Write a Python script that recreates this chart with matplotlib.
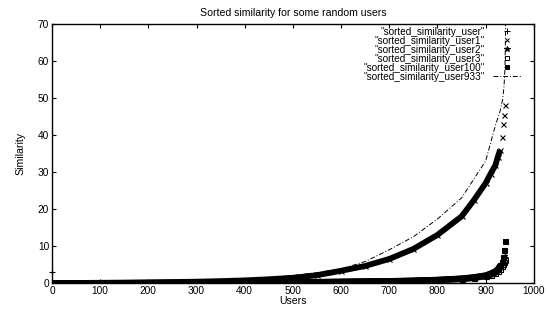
import numpy as np
import matplotlib
matplotlib.use("Agg")
import matplotlib.pyplot as plt
from matplotlib.lines import Line2D

plt.rcParams['font.family'] = ['Liberation Sans', 'DejaVu Sans']

users = [0, 50, 100, 150, 200, 250, 300, 350, 400, 450, 500, 550, 600, 650,
         700, 750, 800, 850, 875, 900, 910, 920, 925, 930, 934, 936, 938, 940]

# sorted similarity values
sim_user = [0.0, 0.0, 0.0, 0.0, 0.03, 0.05, 0.08, 0.1, 0.13, 0.17, 0.22, 0.27, 0.33, 0.4,
            0.48, 0.6, 0.8, 1.1, 1.4, 1.9, 2.3, 2.9, 3.4, 4.2, 5.0, 5.6, 6.3, 7.0]
sim_user1 = [0.0, 0.0, 0.05, 0.1, 0.15, 0.25, 0.35, 0.5, 0.7, 1.0, 1.4, 2.1, 3.3, 4.6,
             6.5, 9.2, 13.0, 18.0, 22.3, 27.0, 29.5, 31.8, 34.0, 36.0, 39.5, 43.0, 45.5, 48.0]
sim_user2 = [0.0, 0.0, 0.0, 0.02, 0.04, 0.06, 0.09, 0.12, 0.15, 0.19, 0.24, 0.3, 0.36, 0.44,
             0.52, 0.65, 0.85, 1.2, 1.5, 2.0, 2.4, 3.0, 3.6, 4.5, 5.3, 6.0, 6.6, 7.4]
sim_user3 = [0.0, 0.0, 0.0, 0.01, 0.03, 0.05, 0.07, 0.1, 0.13, 0.16, 0.2, 0.25, 0.3, 0.37,
             0.45, 0.55, 0.75, 1.0, 1.3, 1.8, 2.1, 2.7, 3.2, 3.9, 4.6, 5.2, 5.8, 6.2]
sim_user100 = [0.0, 0.0, 0.0, 0.02, 0.05, 0.07, 0.1, 0.13, 0.16, 0.2, 0.25, 0.31, 0.37, 0.45,
               0.55, 0.68, 0.9, 1.25, 1.6, 2.1, 2.6, 3.2, 3.8, 4.8, 5.8, 7.0, 9.0, 11.3]

users933 = [0, 100, 200, 300, 400, 500, 550, 600, 650, 700, 750, 800, 850, 875,
            900, 920, 930, 935, 938, 940, 941, 942]
sim_user933 = [0.0, 0.1, 0.25, 0.5, 1.0, 2.0, 2.8, 3.8, 5.8, 9.0, 12.5, 17.3, 23.0, 28.0,
               33.0, 42.5, 46.5, 49.5, 53.0, 58.0, 66.0, 75.0]

# lone point sitting on the y axis
extra_x = [0]
extra_y = [3.0]

labels = ['"sorted_similarity_user"', '"sorted_similarity_user1"',
          '"sorted_similarity_user2"', '"sorted_similarity_user3"',
          '"sorted_similarity_user100"', '"sorted_similarity_user933"']

fig = plt.figure(figsize=(5.47, 3.12), dpi=100)
ax = fig.add_axes([0.095, 0.093, 0.881, 0.830])

series = [(sim_user, '+', 'full'), (sim_user1, 'x', 'full'), (sim_user2, '*', 'full'),
          (sim_user3, 's', 'none'), (sim_user100, 's', 'full')]
for vals, mk, fs in series:
    ax.plot(users[:-4], vals[:-4], color='black', lw=4.2, solid_capstyle='butt', zorder=2)
    ax.plot(users, vals, ls='none', marker=mk, fillstyle=fs, color='black',
            ms=3.6, mew=0.8, zorder=3)
ax.plot(extra_x, extra_y, ls='none', marker='+', color='black', ms=5, mew=0.8,
        clip_on=False, zorder=4)
ax.plot(users933, sim_user933, color='black', lw=0.7, ls=(0, (5, 2, 1, 2)), zorder=4)

ax.set_xlim(0, 1000)
ax.set_ylim(0, 70)
ax.set_xticks(np.arange(0, 1001, 100))
ax.set_yticks(np.arange(0, 71, 10))
ax.tick_params(direction='in', top=True, right=True, length=3, width=0.8,
               labelsize=7.3, pad=2)
for s in ax.spines.values():
    s.set_linewidth(1.0)

ax.set_title("Sorted similarity for some random users", fontsize=7.6, pad=6)
ax.set_xlabel("Users", fontsize=7.6, labelpad=0)
ax.set_ylabel("Similarity", fontsize=7.6, labelpad=9)

handles = [Line2D([], [], ls='none', marker='+', color='black', ms=4, mew=0.7),
           Line2D([], [], ls='none', marker='x', color='black', ms=3.2, mew=0.7),
           Line2D([], [], ls='none', marker='*', color='black', ms=4, mew=0.7),
           Line2D([], [], ls='none', marker='s', fillstyle='none', color='black', ms=3.2, mew=0.7),
           Line2D([], [], ls='none', marker='s', color='black', ms=3.2, mew=0.7),
           Line2D([], [], color='black', lw=0.7, ls=(0, (5, 2, 1, 2)))]
leg = ax.legend(handles, labels, loc='upper right', bbox_to_anchor=(0.975, 0.99),
                frameon=False, fontsize=7.2, markerfirst=False, labelspacing=-0.1,
                handlelength=2.9, handletextpad=0.8, borderpad=0, borderaxespad=0)
for col in leg._legend_handle_box.get_children():
    col.align = 'right'

fig.savefig("out.png", dpi=100)
